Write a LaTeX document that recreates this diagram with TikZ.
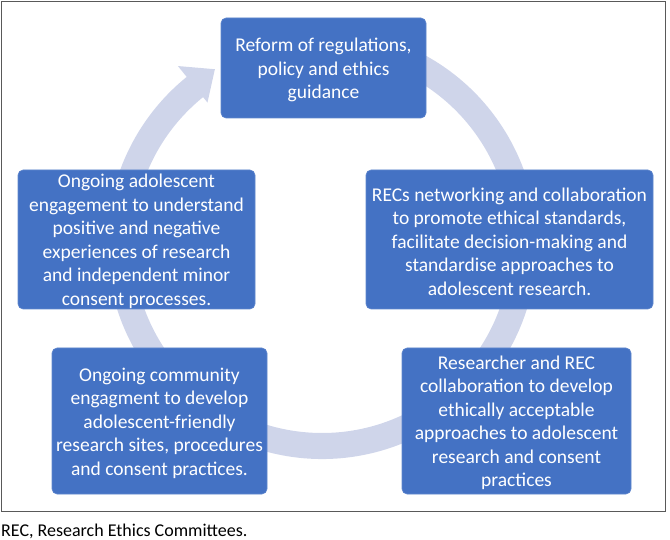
\documentclass[tikz,border=0pt]{standalone}
\usepackage{fontspec}
\setmainfont{Carlito}
\usetikzlibrary{calc}
\definecolor{boxblue}{HTML}{4472C4}
\definecolor{bandcol}{HTML}{CFD5EA}
\definecolor{framecol}{HTML}{595959}
\begin{document}
\begin{tikzpicture}[x=1pt,y=-1pt,
  stagebox/.style={fill=boxblue, draw=boxblue!85!white, line width=0.6pt, rounded corners=5pt,
    text=white, align=center, inner sep=0pt,
    font=\fontsize{19.5}{23.5}\selectfont},
  ]
\useasboundingbox (0,0) rectangle (670,540);
\draw[framecol, line width=1pt] (1.5,1.5) rectangle (665,511);
% circular band with arrow
\coordinate (c) at (322,244);
\fill[bandcol] ($(c)+(-75:215)$) arc[start angle=-75, end angle=231, radius=215]
  -- ($(c)+(231:229)$) -- ($(c)+(238.5:205)$) -- ($(c)+(231:182)$) -- ($(c)+(231:189)$)
  arc[start angle=231, end angle=-75, radius=189] -- cycle;
% boxes
\path[stagebox] (221,18) rectangle (426,118);
\node[stagebox, fill=none, draw=none] (top) at (323.5,70) {Reform of regulations,\\policy and ethics\\guidance};
\path[stagebox] (366,170) rectangle (653,309);
\node[stagebox, fill=none, draw=none] (right) at (509.5,241.5) {RECs networking and collaboration\\to promote ethical standards,\\facilitate decision-making and\\standardise approaches to\\adolescent research.};
\path[stagebox] (402,348) rectangle (631,494);
\node[stagebox, fill=none, draw=none] (bright) at (516.5,423) {Researcher and REC\\collaboration to develop\\ethically acceptable\\approaches to adolescent\\research and consent\\practices};
\path[stagebox] (52,348) rectangle (267,494);
\node[stagebox, fill=none, draw=none] (bleft) at (159.5,423) {Ongoing community\\engagment to develop\\adolescent-friendly\\research sites, procedures\\and consent practices.};
\path[stagebox] (18,170) rectangle (255,309);
\node[stagebox, fill=none, draw=none] (left) at (136.5,241.5) {Ongoing adolescent\\engagement to understand\\positive and negative\\experiences of research\\and independent minor\\consent processes.};
\node[anchor=west, inner sep=0pt, font=\fontsize{18}{20}\selectfont] (cap) at (1,531) {REC, Research Ethics Committees.};
\end{tikzpicture}
\end{document}
